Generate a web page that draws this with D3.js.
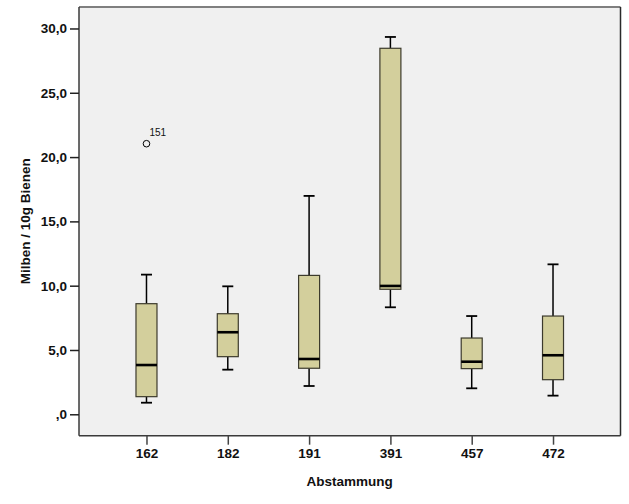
<!DOCTYPE html>
<html><head><meta charset="utf-8">
<script src="https://cdn.jsdelivr.net/npm/d3@7"></script>
<style>body{margin:0;background:#fff;} text{font-family:Arial,"Liberation Sans",sans-serif;}</style>
</head><body>
<svg id="c" width="629" height="504"></svg>
<script>
const categories = ["162","182","191","391","457","472"];
const whiskerLow = [0.90, 3.47, 2.20, 8.32, 2.02, 1.45];
const q1 =         [1.37, 4.48, 3.58, 9.72, 3.55, 2.69];
const median =     [3.83, 6.38, 4.30, 9.98, 4.09, 4.59];
const q3 =         [8.60, 7.82, 10.80, 28.46, 5.93, 7.64];
const whiskerHigh =[10.86, 9.95, 16.98, 29.34, 7.64, 11.66];
const outlierCat = ["162"];
const outlierVal = [21.04];
const outlierLabel = ["151"];
const yTicks = [0, 5, 10, 15, 20, 25, 30];
const xTitle = "Abstammung";
const yTitle = "Milben / 10g Bienen";

const svg = d3.select("#c");
const L = 79, R = 620.5, T = 7, B = 435.7;
const x = d3.scalePoint().domain(categories).range([L, R]).padding(0.83);
const y = d3.scaleLinear().domain([-1.665, 31.67]).range([B, T]);

svg.append("rect").attr("x", L).attr("y", T).attr("width", R - L).attr("height", B - T).attr("fill", "#f0f0f0");
// frame
svg.append("line").attr("x1", L).attr("x2", R).attr("y1", T).attr("y2", T).attr("stroke", "#7f7f7f").attr("stroke-width", 2);
svg.append("line").attr("x1", R).attr("x2", R).attr("y1", T).attr("y2", B).attr("stroke", "#2a2a2a").attr("stroke-width", 1.5);

const fmt = v => (v === 0 ? "" : String(v)) + ",0";
const yAxis = d3.axisLeft(y).tickValues(yTicks).tickFormat(fmt).tickSize(9).tickPadding(3);
const gy = svg.append("g").attr("transform", `translate(${L},0)`).call(yAxis);
gy.select(".domain").attr("stroke", "#3a3a3a").attr("stroke-width", 1.5).attr("d", `M0,${T}V${B}`);
gy.selectAll(".tick line").attr("stroke", "#222").attr("stroke-width", 1.5);
gy.selectAll(".tick text").attr("fill", "#111").style("font-size", "13.5px").style("font-weight", "bold");

const xAxis = d3.axisBottom(x).tickSize(9).tickPadding(4);
const gx = svg.append("g").attr("transform", `translate(0,${B})`).call(xAxis);
gx.select(".domain").attr("stroke", "#3a3a3a").attr("stroke-width", 1.5).attr("d", `M${L},0H${R}`);
gx.selectAll(".tick line").attr("stroke", "#444").attr("stroke-width", 1.5);
gx.selectAll(".tick text").attr("fill", "#111").style("font-size", "13.5px").style("font-weight", "bold");

const bw = 21, cap = 11;
const data = categories.map((c, i) => ({c, lo: whiskerLow[i], q1: q1[i], med: median[i], q3: q3[i], hi: whiskerHigh[i]}));
const g = svg.append("g");
data.forEach(d => {
  const cx = x(d.c);
  g.append("line").attr("x1", cx).attr("x2", cx).attr("y1", y(d.hi)).attr("y2", y(d.q3)).attr("stroke", "#000").attr("stroke-width", 1.5);
  g.append("line").attr("x1", cx).attr("x2", cx).attr("y1", y(d.q1)).attr("y2", y(d.lo)).attr("stroke", "#000").attr("stroke-width", 1.5);
  g.append("line").attr("x1", cx - cap/2).attr("x2", cx + cap/2).attr("y1", y(d.hi)).attr("y2", y(d.hi)).attr("stroke", "#000").attr("stroke-width", 1.8);
  g.append("line").attr("x1", cx - cap/2).attr("x2", cx + cap/2).attr("y1", y(d.lo)).attr("y2", y(d.lo)).attr("stroke", "#000").attr("stroke-width", 1.8);
  g.append("rect").attr("x", cx - bw/2).attr("y", y(d.q3)).attr("width", bw).attr("height", y(d.q1) - y(d.q3))
    .attr("fill", "#d3cf9c").attr("stroke", "#3c3a2c").attr("stroke-width", 1.2);
  g.append("line").attr("x1", cx - bw/2).attr("x2", cx + bw/2).attr("y1", y(d.med)).attr("y2", y(d.med)).attr("stroke", "#000").attr("stroke-width", 2.6);
});
outlierCat.forEach((c, i) => {
  g.append("circle").attr("cx", x(c)).attr("cy", y(outlierVal[i])).attr("r", 3.3).attr("fill", "none").attr("stroke", "#000").attr("stroke-width", 1);
  g.append("text").attr("x", x(c) + 3).attr("y", y(outlierVal[i]) - 8).text(outlierLabel[i]).style("font-size", "10px").attr("fill", "#111");
});

svg.append("text").attr("x", (L + R) / 2).attr("y", 486).attr("text-anchor", "middle").text(xTitle)
  .style("font-size", "13.5px").style("font-weight", "bold").attr("fill", "#111");
svg.append("text").attr("transform", `translate(30,${(T + B) / 2}) rotate(-90)`).attr("text-anchor", "middle").text(yTitle)
  .style("font-size", "13.5px").style("font-weight", "bold").attr("fill", "#111");
</script>
</body></html>
